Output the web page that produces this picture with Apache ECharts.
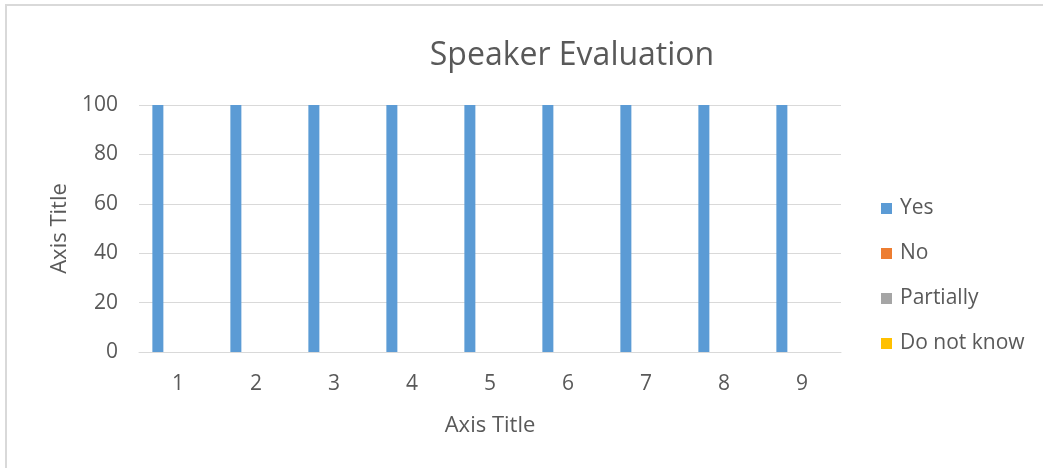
<!DOCTYPE html>
<html>
<head>
<meta charset="utf-8">
<title>Speaker Evaluation</title>
<script src="https://cdn.jsdelivr.net/npm/echarts@6/dist/echarts.min.js"></script>
<style>
  html, body { margin: 0; padding: 0; background: #ffffff; }
  #chart { width: 1043px; height: 468px; }
</style>
</head>
<body>
<div id="chart"></div>
<script>
// Categories (speakers) and the share of answers per option
const categories = ['1', '2', '3', '4', '5', '6', '7', '8', '9'];
const yesValues = [100, 100, 100, 100, 100, 100, 100, 100, 100];
const noValues = [0, 0, 0, 0, 0, 0, 0, 0, 0];
const partiallyValues = [0, 0, 0, 0, 0, 0, 0, 0, 0];
const dontKnowValues = [0, 0, 0, 0, 0, 0, 0, 0, 0];
const seriesNames = ['Yes', 'No', 'Partially', 'Do not know'];
const seriesColors = ['#5b9bd5', '#ed7d31', '#a5a5a5', '#ffc000'];
const yTicks = { min: 0, max: 100, step: 20 };

const FONT = '"Open Sans", "Noto Sans", sans-serif';
const TEXT = '#595959';
const GRID_LINE = '#d9d9d9';

const chart = echarts.init(document.getElementById('chart'), null, { renderer: 'canvas' });

const seriesData = [yesValues, noValues, partiallyValues, dontKnowValues];

chart.setOption({
  animation: false,
  backgroundColor: '#ffffff',
  title: {
    text: 'Speaker Evaluation',
    left: 567,
    textAlign: 'center',
    top: 35,
    textStyle: { fontFamily: FONT, fontSize: 32, fontWeight: 'normal', color: TEXT }
  },
  graphic: [{
    type: 'rect',
    shape: { x: 6, y: 5, width: 1100, height: 1000 },
    style: { fill: 'none', stroke: GRID_LINE, lineWidth: 2 },
    silent: true,
    z: -1
  }],
  legend: {
    orient: 'vertical',
    left: 881,
    top: 198,
    padding: 0,
    itemWidth: 11,
    itemHeight: 11,
    itemGap: 24,
    icon: 'rect',
    data: seriesNames,
    textStyle: { fontFamily: FONT, fontSize: 21, color: TEXT, padding: [0, 0, 0, 3] }
  },
  grid: { left: 139, right: 202, top: 105, bottom: 116, containLabel: false },
  xAxis: {
    type: 'category',
    data: categories,
    name: 'Axis Title',
    nameLocation: 'middle',
    nameGap: 63,
    nameTextStyle: { fontFamily: FONT, fontSize: 22, color: TEXT },
    axisLine: { lineStyle: { color: GRID_LINE, width: 1 } },
    axisTick: { show: false },
    axisLabel: { fontFamily: FONT, fontSize: 21, color: TEXT, margin: 22 }
  },
  yAxis: {
    type: 'value',
    min: yTicks.min,
    max: yTicks.max,
    interval: yTicks.step,
    name: 'Axis Title',
    nameLocation: 'middle',
    nameGap: 67,
    nameTextStyle: { fontFamily: FONT, fontSize: 22, color: TEXT },
    axisLine: { show: false },
    axisTick: { show: false },
    axisLabel: { fontFamily: FONT, fontSize: 21, color: TEXT, margin: 21 },
    splitLine: { lineStyle: { color: GRID_LINE, width: 1 } }
  },
  series: seriesNames.map((name, i) => ({
    name: name,
    type: 'bar',
    data: seriesData[i],
    barWidth: 11,
    barGap: '22%',
    itemStyle: { color: seriesColors[i] }
  }))
});
</script>
</body>
</html>
